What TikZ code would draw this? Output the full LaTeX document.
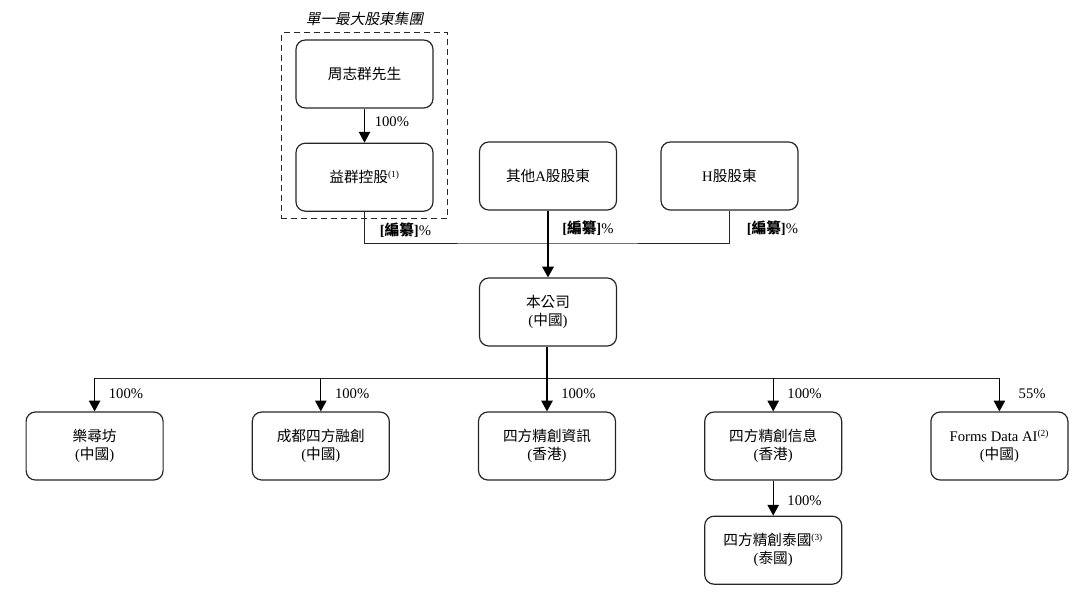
\documentclass[tikz,border=0pt]{standalone}
\usepackage{fontspec}
\setmainfont{Liberation Serif}
\newfontfamily\cjk{Noto Sans CJK TC}
\newfontfamily\cjkslant[FakeSlant=0.2]{Noto Sans CJK TC}
\usetikzlibrary{arrows.meta, positioning, calc, fit}
\tikzset{
	entity/.style={rectangle, rounded corners=7pt, draw=black!85, line width=0.9pt, align=center, minimum width=102.75pt, minimum height=51pt, inner sep=0pt, font=\fontsize{11}{13.5}\selectfont},
	holdline/.style={line width=0.7pt, draw=black!85},
	arrow/.style={-{Triangle[length=8pt, width=8.5pt]}, line width=0.9pt, draw=black},
	pct/.style={font=\fontsize{11}{13}\selectfont, inner sep=0pt, anchor=west},
	group/.style={draw=black!85, dash pattern=on 4.5pt off 3pt, line width=0.8pt, inner xsep=10.5pt, inner ysep=5pt},
}
\newcommand{\bianzuan}{\textbf{[{\cjk\bfseries 編纂}]}\%}
\newcommand{\note}[1]{\textsuperscript{\scriptsize(#1)}}

\begin{document}
\begin{tikzpicture}[x=0.75pt, y=-0.75pt]
		\useasboundingbox (0,0) rectangle (1089,594);
		% shareholders
		\node[entity] (zhou) at (364.5,74) {\cjk 周志群先生};
		\node[entity, below=25.5pt of zhou] (yiqun) {{\cjk 益群控股}\note{1}};
		\node[group, fit=(zhou)(yiqun)] (single) {};
		\node[anchor=south, inner sep=0pt, font=\fontsize{11}{13}\selectfont\cjkslant, above=5pt of single] (singletitle) {單一最大股東集團};
		\node[entity] (otherA) at (548,176) {{\cjk 其他}A{\cjk 股股東}};
		\node[entity] (hshare) at (729.5,176) {H{\cjk 股股東}};
		% company
		\node[entity] (company) at (548,312) {{\cjk 本公司}\\({\cjk 中國})};
		% subsidiaries
		\node[entity] (sub3) at (547,446) {{\cjk 四方精創資訊}\\({\cjk 香港})};
		\node[entity, left=66pt of sub3] (sub2) {{\cjk 成都四方融創}\\({\cjk 中國})};
		\node[entity, left=66pt of sub2] (sub1) {{\cjk 樂尋坊}\\({\cjk 中國})};
		\node[entity, right=66pt of sub3] (sub4) {{\cjk 四方精創信息}\\({\cjk 香港})};
		\node[entity, right=66pt of sub4] (sub5) {Forms Data AI\note{2}\\({\cjk 中國})};
		\node[entity, below=26.25pt of sub4] (sub6) {{\cjk 四方精創泰國}\note{3}\\({\cjk 泰國})};
		% connectors
		\draw[arrow] (zhou) -- (yiqun);
		\node[pct] (pctyiqun) at ($(yiqun.north)+(10,-21)$) {100\%};
		\coordinate (topbus) at (548,243);
		\draw[holdline] (yiqun.south) |- (topbus) -| (hshare.south);
		\draw[arrow, line width=1.4pt] (otherA) -- (company);
		\node[pct] (pcttop1) at ($(yiqun.south)+(15,18)$) {\bianzuan};
		\node[pct] (pcttop2) at ($(otherA.south)+(14,18)$) {\bianzuan};
		\node[pct] (pcttop3) at ($(hshare.south)+(17,18)$) {\bianzuan};
		\coordinate (lowbus) at (547,378);
		\draw[holdline] (sub1.north |- lowbus) -- (sub5.north |- lowbus);
		\draw[arrow] (company.south -| sub3) -- (sub3);
		\foreach \n in {sub1,sub2,sub4,sub5}
			\draw[arrow] (\n.north |- lowbus) -- (\n.north);
		\foreach \n in {sub1,sub2,sub3,sub4}
			\node[pct] (pct\n) at ($(\n.north)+(14,-18)$) {100\%};
		\node[pct] (pctsub5) at ($(sub5.north)+(19,-18)$) {55\%};
		\draw[arrow] (sub4) -- (sub6);
		\node[pct] (pctsub6) at ($(sub6.north)+(14,-15)$) {100\%};
	\end{tikzpicture}
\end{document}
